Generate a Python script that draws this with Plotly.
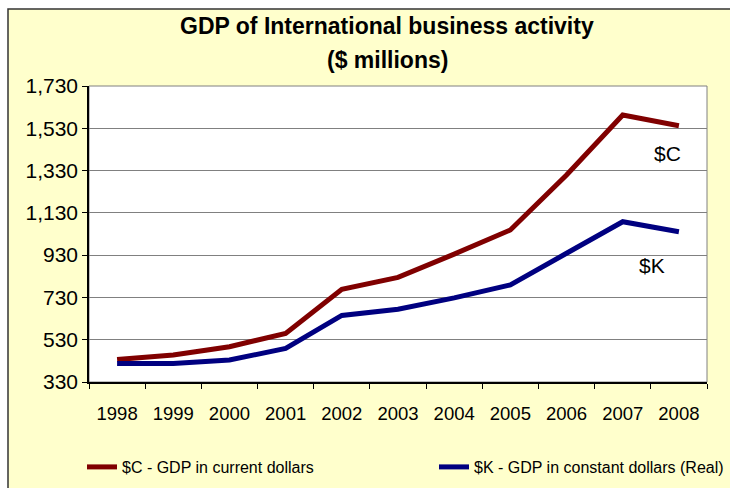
import plotly.graph_objects as go

years = ["1998", "1999", "2000", "2001", "2002", "2003", "2004", "2005", "2006", "2007", "2008"]
gdp_current = [436, 458, 497, 560, 768, 825, 935, 1049, 1309, 1593, 1542]
gdp_constant = [418, 418, 434, 489, 645, 674, 728, 789, 939, 1088, 1041]
y_ticks = [330, 530, 730, 930, 1130, 1330, 1530, 1730]

name_c = "$C - GDP in current dollars"
name_k = "$K - GDP in constant dollars (Real)"

fig = go.Figure()
fig.add_trace(go.Scatter(x=years, y=gdp_current, mode="lines", name=name_c,
                         line=dict(color="#800000", width=5), legend="legend"))
fig.add_trace(go.Scatter(x=years, y=gdp_constant, mode="lines", name=name_k,
                         line=dict(color="#000080", width=5), legend="legend2"))

# plot area in pixels: left 89, right 707, top 86, bottom 382
L, R, T, B = 89, 707, 86, 382
W, H = R - L, B - T

def px(xp):
    return (xp - L) / W

def py(yp):
    return (B - yp) / H

shapes = [
    dict(type="rect", xref="paper", yref="paper", x0=px(8), x1=px(760), y0=py(9), y1=py(520),
         fillcolor="#FFFFCC", line=dict(color="#333333", width=1.5), layer="below"),
    dict(type="rect", xref="paper", yref="paper", x0=0, x1=1, y0=0, y1=1,
         fillcolor="white", line=dict(color="#808080", width=1), layer="below"),
]

title_font = dict(size=23, color="black", family="Liberation Sans, Arial")

annotations = [
    dict(text="<b>GDP of International business activity</b>", x=px(387), y=py(26),
         xref="paper", yref="paper", showarrow=False, xanchor="center", yanchor="middle",
         font=title_font),
    dict(text="<b>($ millions)</b>", x=px(387), y=py(60),
         xref="paper", yref="paper", showarrow=False, xanchor="center", yanchor="middle",
         font=title_font),
    dict(text="$C", x=9.79, y=1410, xref="x", yref="y", showarrow=False,
         font=dict(size=21, color="black", family="Liberation Sans, Arial")),
    dict(text="$K", x=9.52, y=880, xref="x", yref="y", showarrow=False,
         font=dict(size=21, color="black", family="Liberation Sans, Arial")),
]

legend_font = dict(size=16, family="Liberation Sans, Arial", color="black")

fig.update_layout(
    width=730, height=488,
    margin=dict(l=L, r=730 - R, t=T, b=488 - B, autoexpand=False),
    paper_bgcolor="white",
    plot_bgcolor="white",
    font=dict(family="Liberation Sans, Arial", color="black"),
    shapes=shapes,
    annotations=annotations,
    showlegend=True,
    legend=dict(orientation="h", x=px(82), xanchor="left", y=py(467), yanchor="middle",
                bgcolor="rgba(0,0,0,0)", font=legend_font),
    legend2=dict(orientation="h", x=px(434), xanchor="left", y=py(467), yanchor="middle",
                 bgcolor="rgba(0,0,0,0)", font=legend_font),
    xaxis=dict(type="category", tickson="boundaries", ticks="outside", ticklen=5,
               tickcolor="black", showline=True, linecolor="black", linewidth=1.5,
               showgrid=False, tickfont=dict(size=18.5, family="Liberation Sans, Arial"),
               ticklabelstandoff=14, range=[-0.5, 10.5]),
    yaxis=dict(range=[330, 1730], tickvals=y_ticks, tickformat=",", ticks="outside", ticklen=5,
               tickcolor="black", showline=True, linecolor="black", linewidth=1.5,
               showgrid=True, gridcolor="#808080", gridwidth=1, zeroline=False,
               tickfont=dict(size=21, family="Liberation Sans, Arial")),
)

fig.write_html("out.html")
